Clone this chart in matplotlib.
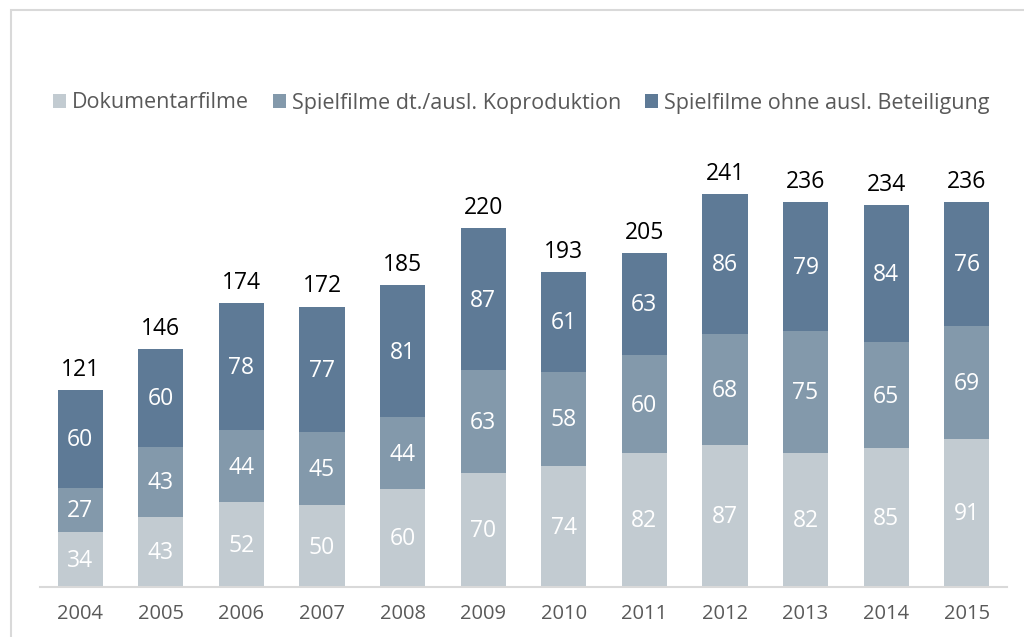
import numpy as np
import matplotlib
matplotlib.use("Agg")
import matplotlib.pyplot as plt
from matplotlib.patches import Rectangle, Patch

years = ["2004", "2005", "2006", "2007", "2008", "2009", "2010", "2011", "2012", "2013", "2014", "2015"]
doku = [34, 43, 52, 50, 60, 70, 74, 82, 87, 82, 85, 91]
kopro = [27, 43, 44, 45, 44, 63, 58, 60, 68, 75, 65, 69]
ohne = [60, 60, 78, 77, 81, 87, 61, 63, 86, 79, 84, 76]
labels = ["Dokumentarfilme", "Spielfilme dt./ausl. Koproduktion", "Spielfilme ohne ausl. Beteiligung"]
colors = ["#c2cbd1", "#8399ab", "#5e7a96"]

plt.rcParams['font.family'] = ['Open Sans', 'DejaVu Sans']

fig = plt.figure(figsize=(10.24, 6.37), dpi=100)
ax = fig.add_axes([40/1024, 1-587/637, (1007-40)/1024, (587-150)/637])

x = np.arange(len(years))
w = 0.56
bottom = np.zeros(len(years))
for vals, col in zip([doku, kopro, ohne], colors):
    vals = np.array(vals)
    ax.bar(x, vals, w, bottom=bottom, color=col, zorder=2)
    for xi, b, v in zip(x, bottom, vals):
        ax.text(xi, b + v/2 - 0.8, str(v), ha='center', va='center', color='white', fontsize=16.5)
    bottom = bottom + vals

for xi, t in zip(x, bottom):
    ax.text(xi, t + 5, str(int(t)), ha='center', va='bottom', color='black', fontsize=16.5)

ax.set_xlim(-0.5, 11.5)
ax.set_ylim(0, 268)
ax.set_xticks(x)
ax.set_xticklabels(years, fontsize=14.5, color='#595959')
ax.tick_params(axis='x', length=0, pad=12)
ax.set_yticks([])
for s in ['top', 'right', 'left']:
    ax.spines[s].set_visible(False)
ax.spines['bottom'].set_color('#d9d9d9')
ax.spines['bottom'].set_linewidth(1.5)

handles = [Patch(facecolor=c, edgecolor='none') for c in colors]
fig.legend(handles, labels, loc='center left', bbox_to_anchor=(44/1024, 1-103/637), ncol=3,
           frameon=False, fontsize=15.5, labelcolor='#595959', handlelength=0.6, handleheight=0.6,
           handletextpad=0.3, columnspacing=1.1, borderaxespad=0)

fig.add_artist(Rectangle((11/1024, -0.1), 2, 1.1 - 10/637, fill=False, edgecolor='#d9d9d9',
                         lw=1.5, transform=fig.transFigure))

fig.savefig("out.png", dpi=100)
